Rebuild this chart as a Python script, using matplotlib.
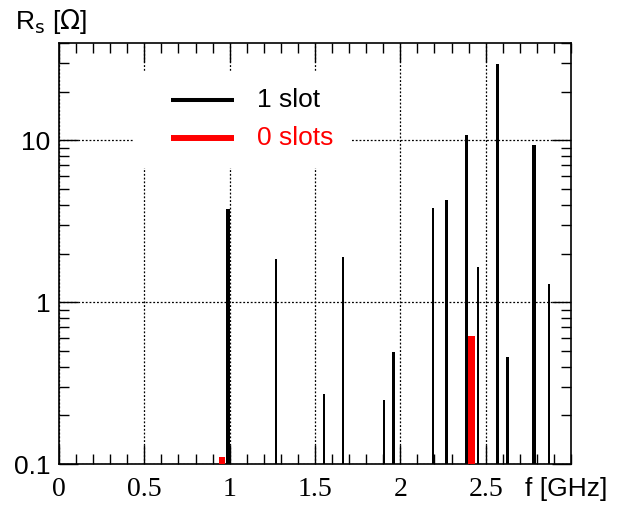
import matplotlib.pyplot as plt
from matplotlib.ticker import FixedLocator, LogLocator, NullFormatter, MultipleLocator
from matplotlib.patches import Rectangle
from matplotlib.lines import Line2D

plt.rcParams['font.family'] = ['Liberation Sans', 'DejaVu Sans']

# 1 slot resonances: frequency [GHz] and shunt impedance [Ohm]
freq_1slot = [0.99, 1.27, 1.55, 1.665, 1.905, 1.96, 2.19, 2.27, 2.385, 2.455, 2.57, 2.63, 2.785, 2.87]
rs_1slot = [3.75, 1.85, 0.27, 1.9, 0.25, 0.49, 3.8, 4.3, 10.8, 1.65, 29.5, 0.46, 9.4, 1.3]
width_1slot = [0.028, 0.012, 0.012, 0.012, 0.012, 0.018, 0.014, 0.016, 0.018, 0.014, 0.02, 0.016, 0.022, 0.012]

# 0 slots resonances
freq_0slot = [0.957, 2.415]
rs_0slot = [0.11, 0.62]
width_0slot = [0.036, 0.04]

W, H = 625, 505
fig = plt.figure(figsize=(W / 100, H / 100), dpi=100)
ax = fig.add_axes([59 / W, 1 - 464 / H, 512 / W, 421 / H])

ax.bar(freq_1slot, [v - 0.1 for v in rs_1slot], width=width_1slot, bottom=0.1, color='black', zorder=3)
ax.bar(freq_0slot, [v - 0.1 for v in rs_0slot], width=width_0slot, bottom=0.1, color='red', zorder=3)

ax.set_yscale('log')
ax.set_xlim(0, 3)
ax.set_ylim(0.1, 40)

ax.xaxis.set_minor_locator(MultipleLocator(0.1))
ax.set_xticks([0, 0.5, 1, 1.5, 2, 2.5])
ax.set_xticklabels(['0', '0.5', '1', '1.5', '2', '2.5'], family=['Liberation Serif', 'DejaVu Serif'])
ax.yaxis.set_major_locator(FixedLocator([0.1, 1, 10]))
ax.set_yticklabels(['0.1', '1', '10'])
ax.yaxis.set_minor_locator(LogLocator(base=10, subs=range(2, 10)))
ax.yaxis.set_minor_formatter(NullFormatter())

ax.tick_params(which='both', direction='in', top=True, right=True, labelsize=19, width=1)
ax.tick_params(axis='x', pad=9, labelsize=20)
ax.tick_params(axis='y', pad=6)
ax.tick_params(which='major', length=14)
ax.tick_params(which='minor', length=7)
for s in ax.spines.values():
    s.set_linewidth(1.2)

ax.grid(True, which='major', color='black', linestyle=(0, (1.5, 1.5)), linewidth=0.9, zorder=1)

fig.text(15 / W, 1 - 22 / H, r'R$_{\rm s}$ [$\Omega$]', fontsize=19, ha='left', va='center')
fig.text(607 / W, 1 - 489 / H, 'f [GHz]', fontsize=19, ha='right', va='center')

# legend panel: white box without border that hides the grid
fig.add_artist(Rectangle((133 / W, 1 - 168 / H), 218 / W, 96 / H, transform=fig.transFigure,
                         facecolor='white', edgecolor='none', zorder=4))
labels = ['1 slot', '0 slots']
colors = ['black', 'red']
widths = [2.9, 4.3]
rows = [100, 138]
for lab, col, lw, yr in zip(labels, colors, widths, rows):
    fig.add_artist(Line2D([171 / W, 234 / W], [1 - yr / H, 1 - yr / H], transform=fig.transFigure,
                          color=col, linewidth=lw, solid_capstyle='butt', zorder=5))
    fig.text(257 / W, 1 - yr / H, lab, color=col, fontsize=19, ha='left', va='center', zorder=5)

fig.savefig('out.png', dpi=100)
